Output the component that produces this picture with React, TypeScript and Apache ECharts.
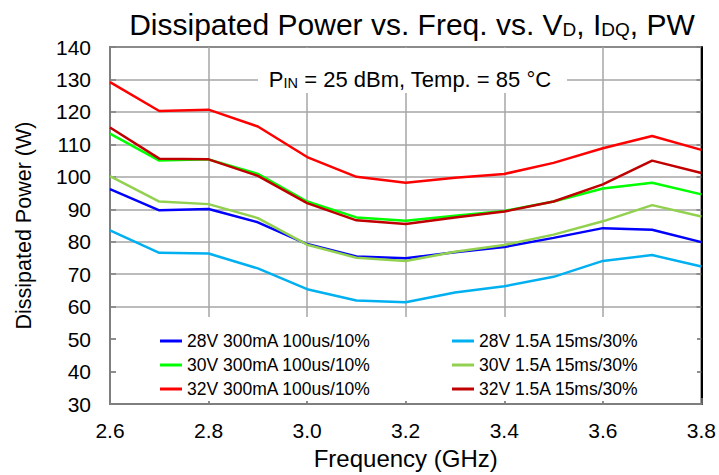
import React, { useEffect, useRef } from "react";
import * as echarts from "echarts";

const freqs = [2.6, 2.7, 2.8, 2.9, 3.0, 3.1, 3.2, 3.3, 3.4, 3.5, 3.6, 3.7, 3.8];

const seriesNames = [
  "28V 300mA 100us/10%",
  "30V 300mA 100us/10%",
  "32V 300mA 100us/10%",
  "28V 1.5A 15ms/30%",
  "30V 1.5A 15ms/30%",
  "32V 1.5A 15ms/30%",
];

const v28_300 = [96.2, 89.7, 90.1, 86.0, 79.3, 75.5, 74.9, 76.8, 78.4, 81.2, 84.2, 83.7, 79.9];
const v30_300 = [113.3, 105.0, 105.4, 100.9, 92.4, 87.5, 86.5, 88.0, 89.5, 92.4, 96.4, 98.2, 94.6];
const v32_300 = [129.2, 120.3, 120.7, 115.5, 106.1, 100.0, 98.2, 99.7, 100.9, 104.3, 108.8, 112.6, 108.3];
const v28_15 = [83.5, 76.6, 76.4, 71.8, 65.4, 61.9, 61.4, 64.4, 66.3, 69.2, 74.1, 75.9, 72.4];
const v30_15 = [100.2, 92.4, 91.6, 87.3, 79.1, 75.1, 74.1, 76.9, 79.0, 82.2, 86.3, 91.3, 87.8];
const v32_15 = [115.2, 105.6, 105.4, 100.3, 91.9, 86.6, 85.5, 87.5, 89.3, 92.4, 97.7, 105.0, 101.2];

const seriesValues = [v28_300, v30_300, v32_300, v28_15, v30_15, v32_15];
const seriesColors = ["#0000FF", "#00FF00", "#FF0000", "#00B0F0", "#92D050", "#C00000"];

const FONT = "'Liberation Sans', Arial, sans-serif";

export default function App() {
  const ref = useRef<HTMLDivElement>(null);
  useEffect(() => {
    if (!ref.current) return;
    const chart = echarts.init(ref.current, undefined, { renderer: "svg" });
    const legendCommon = {
      orient: "vertical",
      itemWidth: 22,
      itemHeight: 3,
      itemGap: 4,
      icon: "rect",
      textStyle: { fontFamily: FONT, fontSize: 17.5, color: "#000", lineHeight: 20 },
    };
    chart.setOption({
      animation: false,
      backgroundColor: "#fff",
      title: [
        {
          text: "{n|Dissipated Power vs. Freq. vs. V}{s|D}{n|, I}{s|DQ}{n|, PW}",
          left: 407,
          top: 0,
          textAlign: "center",
          textStyle: {
            fontFamily: FONT,
            fontWeight: "normal",
            rich: {
              n: { fontFamily: FONT, fontWeight: "normal", fontSize: 30, color: "#000", lineHeight: 34, verticalAlign: "bottom" },
              s: { fontFamily: FONT, fontWeight: "normal", fontSize: 19, color: "#000", lineHeight: 29, verticalAlign: "bottom" },
            },
          },
        },
        {
          text: "{n|P}{s|IN}{n| = 25 dBm, Temp. = 85 °C}",
          left: 405,
          top: 59,
          textAlign: "center",
          textStyle: {
            fontFamily: FONT,
            fontWeight: "normal",
            rich: {
              n: { fontFamily: FONT, fontWeight: "normal", fontSize: 22, color: "#000", lineHeight: 26, verticalAlign: "bottom" },
              s: { fontFamily: FONT, fontWeight: "normal", fontSize: 14.5, color: "#000", lineHeight: 22, verticalAlign: "bottom" },
            },
          },
        },
      ],
      graphic: [
        { type: "rect", z: 1, shape: { x: 258, y: 48, width: 309, height: 45 }, style: { fill: "#fff" } },
        { type: "rect", z: 1, shape: { x: 116, y: 317, width: 581, height: 84 }, style: { fill: "#fff" } },
      ],
      legend: [
        { ...legendCommon, left: 155, top: 326, data: seriesNames.slice(0, 3) },
        { ...legendCommon, left: 447, top: 326, data: seriesNames.slice(3, 6) },
      ],
      grid: {
        left: 110,
        right: 17,
        top: 47,
        bottom: 67,
        show: true,
        borderColor: "#000",
        borderWidth: 1.5,
        backgroundColor: "transparent",
      },
      xAxis: {
        type: "value",
        min: 2.6,
        max: 3.8,
        interval: 0.2,
        name: "Frequency (GHz)",
        nameLocation: "middle",
        nameGap: 38,
        nameTextStyle: { fontFamily: FONT, fontSize: 24, color: "#000" },
        axisLine: { show: true, lineStyle: { color: "#7f7f7f", width: 2 } },
        axisTick: { show: true, inside: true, length: 6, lineStyle: { color: "#7f7f7f", width: 1.5 } },
        axisLabel: {
          fontFamily: FONT,
          fontSize: 21,
          color: "#000",
          margin: 16,
          formatter: (v: number) => v.toFixed(1),
        },
        splitLine: { show: true, lineStyle: { color: "#a6a6a6", width: 1.5 } },
      },
      yAxis: [
        {
          type: "value",
          min: 30,
          max: 140,
          interval: 10,
          name: "Dissipated Power (W)",
          nameLocation: "middle",
          nameGap: 75,
          nameTextStyle: { fontFamily: FONT, fontSize: 21.5, color: "#000" },
          axisLine: { show: true, lineStyle: { color: "#7f7f7f", width: 2 } },
          axisTick: { show: true, inside: true, length: 6, lineStyle: { color: "#7f7f7f", width: 1.5 } },
          axisLabel: { fontFamily: FONT, fontSize: 21, color: "#000", margin: 19 },
          splitLine: { show: true, lineStyle: { color: "#a6a6a6", width: 1.5 } },
        },
        {
          type: "value",
          min: 30,
          max: 140,
          interval: 10,
          position: "right",
          axisLine: { show: true, lineStyle: { color: "#000", width: 2 } },
          axisTick: { show: true, inside: true, length: 5, lineStyle: { color: "#7f7f7f", width: 1.5 } },
          axisLabel: { show: false },
          splitLine: { show: false },
        },
      ],
      series: seriesNames.map((name, i) => ({
        name,
        type: "line",
        symbol: "none",
        z: 3,
        lineStyle: { color: seriesColors[i], width: 2.5 },
        itemStyle: { color: seriesColors[i] },
        data: freqs.map((f, j) => [f, seriesValues[i][j]]),
      })),
    });
    return () => chart.dispose();
  }, []);
  return <div ref={ref} style={{ width: 719, height: 475, position: "absolute", left: 0, top: 0 }} />;
}
